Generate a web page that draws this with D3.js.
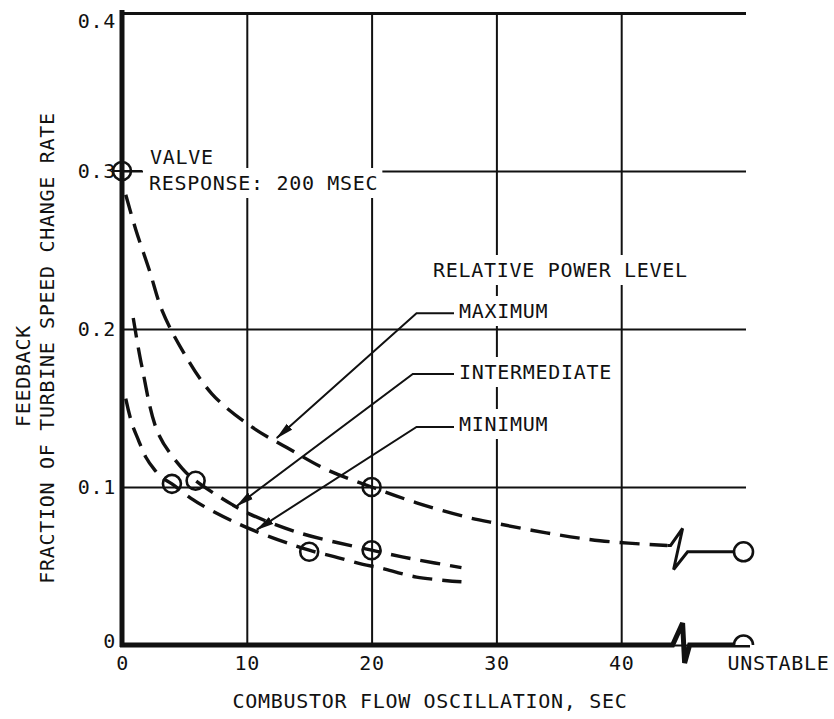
<!DOCTYPE html>
<html>
<head>
<meta charset="utf-8">
<script src="https://cdn.jsdelivr.net/npm/d3@7"></script>
<style>
body { margin: 0; background: #fff; }
text { font-family: "DejaVu Sans Mono", monospace; font-size: 20px; letter-spacing: 0.7px; fill: #111; }
</style>
</head>
<body>
<svg width="834" height="719"></svg>
<script>
// tick values
var xTicks = [0, 10, 20, 30, 40];
var yTicks = [0, 0.1, 0.2, 0.3, 0.4];

// dashed curves [oscillation sec, feedback]
var maxCurve = [[0.3,0.285],[1.1,0.263],[2.2,0.237],[3.2,0.212],[4.8,0.187],[7.2,0.159],[10.4,0.138],[13.2,0.125],[16.4,0.111],[20,0.1],[23.6,0.09],[27.6,0.081],[30,0.077],[34,0.071],[38.3,0.066],[43.7,0.063]];
var intCurve = [[0.9,0.207],[1.6,0.176],[2.9,0.134],[4.8,0.112],[5.9,0.104],[8.8,0.089],[10.2,0.083],[14.2,0.071],[20,0.06],[23.6,0.054],[27.2,0.049]];
var minCurve = [[0.3,0.156],[0.8,0.14],[1.3,0.13],[1.9,0.119],[2.6,0.111],[3.2,0.106],[4,0.102],[5.5,0.093],[7.2,0.085],[10.4,0.073],[15,0.06],[17,0.056],[19.3,0.051],[20.6,0.049],[23.6,0.043],[27.2,0.04]];

// test points
var points = [[0,0.3],[4,0.102],[5.9,0.104],[15,0.059],[20,0.06],[20,0.1]];
var breakX = 44.6;
var unstableX = 49.8;
var unstableMax = 0.059;

var svg = d3.select('svg');
var x = d3.scaleLinear().domain([0, 50]).range([122, 746]);
var y = d3.scaleLinear().domain([0, 0.4]).range([645, 13]);

// grid + tick labels
svg.append('g')
    .attr('transform', 'translate(0,' + y(0) + ')')
    .call(d3.axisBottom(x).tickValues(xTicks).tickSize(-(y(0) - y(0.4))).tickPadding(11).tickFormat(d3.format('d')))
    .call(function(g) {
        g.select('.domain').remove();
        g.selectAll('line').attr('stroke', '#111').attr('stroke-width', 2);
    });

svg.append('g')
    .attr('transform', 'translate(' + x(0) + ',0)')
    .call(d3.axisLeft(y).tickValues(yTicks).tickSize(-(x(50) - x(0))).tickPadding(6)
        .tickFormat(function(d) { return d === 0 ? '0' : d3.format('.1f')(d); }))
    .call(function(g) {
        g.select('.domain').remove();
        g.selectAll('line').attr('stroke', '#111').attr('stroke-width', function(d) { return d === 0.4 ? 3 : 2; });
        g.selectAll('text').attr('dy', function(d) { return d === 0.4 ? '0.7em' : d === 0 ? '0.1em' : '0.32em'; });
    });

// UNSTABLE tick label
svg.append('text')
    .attr('x', x(unstableX) - 16)
    .attr('y', 670)
    .text('UNSTABLE');

// thick axes
var bx = x(breakX);
svg.append('path')
    .attr('d', d3.line()([[x(0) - 2, y(0)], [bx - 6, y(0)], [bx + 4, y(0) - 22], [bx + 6, y(0) + 18], [bx + 11, y(0)], [x(50) + 4, y(0)]]))
    .attr('fill', 'none').attr('stroke', '#111').attr('stroke-width', 5).attr('stroke-linejoin', 'miter');
svg.append('line')
    .attr('x1', x(0)).attr('x2', x(0))
    .attr('y1', y(0.4) - 3).attr('y2', y(0) + 2)
    .attr('stroke', '#111').attr('stroke-width', 5);

// text with white box behind it
function boxedText(txt, px, py, anchor) {
    var g = svg.append('g');
    var t = g.append('text').attr('x', px).attr('y', py).attr('text-anchor', anchor || 'start').text(txt);
    var b = t.node().getBBox();
    g.insert('rect', 'text')
        .attr('x', b.x - 6).attr('y', b.y - 3)
        .attr('width', b.width + 10).attr('height', b.height + 6)
        .attr('fill', '#fff');
    return g;
}

boxedText('VALVE', 150, 164);
boxedText('RESPONSE: 200 MSEC', 149, 190);
boxedText('RELATIVE POWER LEVEL', 433, 277);

// axis titles
svg.append('text')
    .attr('x', 430).attr('y', 708)
    .attr('text-anchor', 'middle')
    .text('COMBUSTOR FLOW OSCILLATION, SEC');
svg.append('text')
    .attr('transform', 'translate(30,376) rotate(-90)')
    .attr('text-anchor', 'middle')
    .text('FEEDBACK');
svg.append('text')
    .attr('transform', 'translate(54,348) rotate(-90)')
    .attr('text-anchor', 'middle')
    .text('FRACTION OF TURBINE SPEED CHANGE RATE');

// dashed curves
var line = d3.line()
    .x(function(d) { return x(d[0]); })
    .y(function(d) { return y(d[1]); })
    .curve(d3.curveCatmullRom);

svg.selectAll('.curve')
    .data([maxCurve, intCurve, minCurve])
    .enter()
    .append('path')
    .attr('class', 'curve')
    .attr('d', line)
    .attr('fill', 'none')
    .attr('stroke', '#111')
    .attr('stroke-width', 3.4)
    .attr('stroke-dasharray', '20,10');

// break on the maximum curve, then solid to the unstable point
var lastMax = maxCurve[maxCurve.length - 1];
var yb = y(lastMax[1]);
svg.append('path')
    .attr('d', d3.line()([[x(lastMax[0]), yb], [bx - 8, yb], [bx + 4, yb - 17], [bx - 5, yb + 24], [bx + 9, y(unstableMax)], [x(unstableX) - 9, y(unstableMax)]]))
    .attr('fill', 'none').attr('stroke', '#111').attr('stroke-width', 3);

// leaders with arrows
svg.append('defs').append('marker')
    .attr('id', 'ah')
    .attr('viewBox', '0 0 18 9')
    .attr('refX', 17).attr('refY', 4.5)
    .attr('markerWidth', 18).attr('markerHeight', 9)
    .attr('markerUnits', 'userSpaceOnUse')
    .attr('orient', 'auto')
    .append('path')
    .attr('d', 'M0,0.5L18,4.5L0,8.5z')
    .attr('fill', '#111');

var leaders = [
    {label: 'MAXIMUM', tip: [12.4, 0.131], elbow: [23.6, 0.21], textY: 318},
    {label: 'INTERMEDIATE', tip: [9.2, 0.088], elbow: [23.3, 0.1715], textY: 379},
    {label: 'MINIMUM', tip: [10.8, 0.073], elbow: [23.6, 0.138], textY: 431}
];

leaders.forEach(function(d) {
    boxedText(d.label, 459, d.textY);
    var ey = y(d.elbow[1]);
    svg.append('path')
        .attr('d', d3.line()([[454, ey], [x(d.elbow[0]), ey], [x(d.tip[0]), y(d.tip[1])]]))
        .attr('fill', 'none')
        .attr('stroke', '#111')
        .attr('stroke-width', 2)
        .attr('marker-end', 'url(#ah)');
});

// data circles
svg.selectAll('.pt')
    .data(points)
    .enter()
    .append('circle')
    .attr('class', 'pt')
    .attr('cx', function(d) { return x(d[0]); })
    .attr('cy', function(d) { return y(d[1]); })
    .attr('r', 9)
    .attr('fill', 'none')
    .attr('stroke', '#111')
    .attr('stroke-width', 2.6);

// crosshair on valve point
svg.append('line')
    .attr('x1', x(0) - 10).attr('x2', x(0) + 20)
    .attr('y1', y(0.3)).attr('y2', y(0.3))
    .attr('stroke', '#111').attr('stroke-width', 2);

// unstable points
svg.append('circle')
    .attr('cx', x(unstableX)).attr('cy', y(unstableMax))
    .attr('r', 9.5)
    .attr('fill', '#fff').attr('stroke', '#111').attr('stroke-width', 2.6);
var ux = x(unstableX), uy = y(0), ur = 9.5;
svg.append('path')
    .attr('d', 'M' + (ux - ur) + ',' + uy + 'A' + ur + ',' + ur + ' 0 0 1 ' + (ux + ur) + ',' + uy)
    .attr('fill', '#fff').attr('stroke', '#111').attr('stroke-width', 2.6);
</script>
</body>
</html>
